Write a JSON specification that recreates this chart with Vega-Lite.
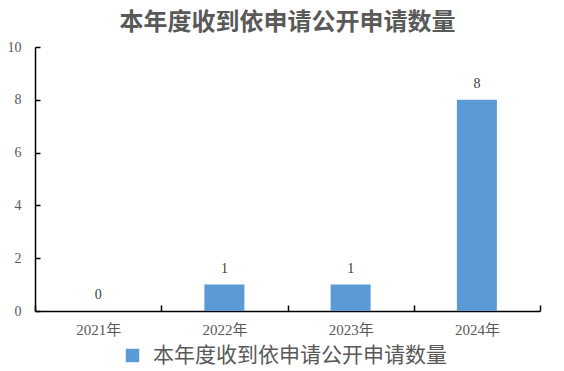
{
  "$schema": "https://vega.github.io/schema/vega-lite/v6.json",
  "width": 505,
  "height": 264,
  "autosize": {"type": "none"},
  "padding": {"left": 35, "top": 47, "right": 24, "bottom": 60},
  "background": "white",
  "title": {
    "text": "本年度收到依申请公开申请数量",
    "font": "Noto Sans CJK SC",
    "fontSize": 24,
    "fontWeight": "bold",
    "color": "#595959",
    "anchor": "middle",
    "offset": 5
  },
  "data": {
    "values": [
      {"year": "2021年", "count": 0},
      {"year": "2022年", "count": 1},
      {"year": "2023年", "count": 1},
      {"year": "2024年", "count": 8}
    ]
  },
  "config": {
    "view": {"stroke": null},
    "axis": {
      "labelFont": "Liberation Serif, Noto Sans CJK SC",
      "labelColor": "#595959",
      "domainColor": "#000000",
      "domainWidth": 1.5,
      "tickColor": "#000000",
      "tickWidth": 1.5,
      "grid": false,
      "title": null
    }
  },
  "encoding": {
    "x": {
      "field": "year",
      "type": "nominal",
      "scale": {"paddingInner": 0, "paddingOuter": 0},
      "axis": {"labelAngle": 0, "labelFontSize": 15, "tickBand": "extent", "tickSize": -6, "labelPadding": 17}
    },
    "y": {
      "field": "count",
      "type": "quantitative",
      "scale": {"domain": [0, 10]},
      "axis": {"values": [0, 2, 4, 6, 8, 10], "labelFontSize": 14, "tickSize": -5, "labelPadding": 19}
    }
  },
  "layer": [
    {
      "mark": {"type": "bar", "width": 40, "color": "#5B9BD5"},
      "encoding": {
        "color": {
          "datum": "本年度收到依申请公开申请数量",
          "scale": {"range": ["#5B9BD5"]},
          "legend": {
            "orient": "none",
            "legendX": 87,
            "legendY": 298,
            "title": null,
            "symbolType": "square",
            "symbolSize": 180,
            "symbolStrokeWidth": 0,
            "labelFont": "Noto Sans CJK SC",
            "labelFontSize": 21,
            "labelColor": "#595959",
            "labelOffset": 10,
            "labelLimit": 0
          }
        }
      }
    },
    {
      "mark": {"type": "text", "dy": -16, "font": "Liberation Serif", "fontSize": 14, "color": "#404040"},
      "encoding": {"text": {"field": "count", "type": "quantitative"}}
    }
  ]
}
